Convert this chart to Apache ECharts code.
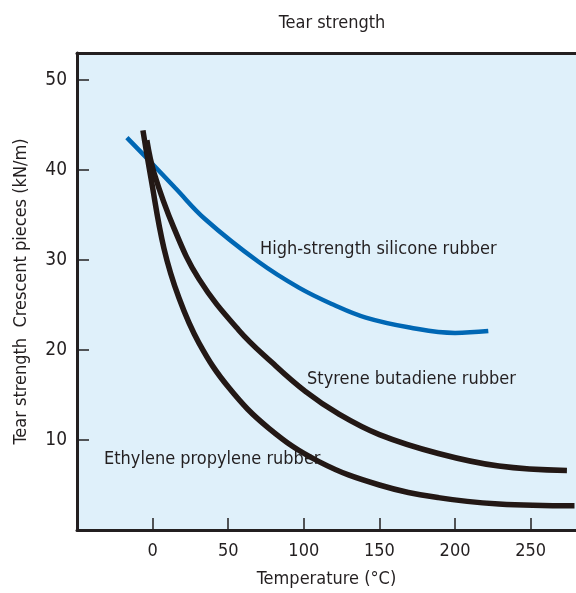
<!DOCTYPE html>
<html><head><meta charset="utf-8">
<script src="https://cdn.jsdelivr.net/npm/echarts@6/dist/echarts.min.js"></script>
<style>html,body{margin:0;padding:0;background:#fff}#c{width:576px;height:593px}</style>
</head><body><div id="c"></div>
<script>
const FONT = '"Liberation Sans Narrow","DejaVu Sans Condensed","Roboto Condensed",sans-serif';
const INK = '#231f20';
const title = 'Tear strength';
const xName = 'Temperature (°C)';
const yName = 'Tear strength  Crescent pieces (kN/m)';
const xTicks = [0, 50, 100, 150, 200, 250];
const yTicks = [10, 20, 30, 40, 50];

const siliconeName = 'High-strength silicone rubber';
const siliconeTemp = [-17, -2, 15, 35, 70, 97, 120, 141, 170, 200, 222];
const siliconeVal  = [43.6, 41, 38.0, 34.5, 29.8, 26.9, 25.0, 23.6, 22.5, 21.9, 22.1];

const sbrName = 'Styrene butadiene rubber';
const sbrTemp = [-3.8, 0.9, 14, 30.6, 57, 79, 101, 123, 150, 189, 229, 274];
const sbrVal  = [43.3, 39.7, 33.6, 27.9, 22.2, 18.6, 15.4, 12.9, 10.6, 8.5, 7.1, 6.6];

const eprName = 'Ethylene propylene rubber';
const eprTemp = [-6.4, -1.1, 7.5, 17.4, 30.6, 50.5, 76.9, 110, 150, 189, 229, 279];
const eprVal  = [44.4, 39.1, 31.3, 25.8, 20.8, 15.8, 11.3, 7.6, 5.0, 3.6, 2.9, 2.7];

const zip = (a, b) => a.map((v, i) => [v, b[i]]);
const chart = echarts.init(document.getElementById('c'), null, {renderer: 'canvas'});
const txt = {fontFamily: FONT, fontSize: 18, color: INK};
chart.setOption({
  animation: false,
  title: {text: title, left: 327, textAlign: 'center', top: 9, textStyle: {fontFamily: FONT, fontSize: 18, fontWeight: 'normal', color: INK}},
  grid: {left: 77, right: 0, top: 53, bottom: 61, show: true, backgroundColor: '#dff0fa', borderWidth: 0},
  xAxis: [{
    type: 'value', min: -50, max: 280, interval: 50,
    name: xName, nameLocation: 'middle', nameGap: 40, nameTextStyle: txt,
    axisLine: {onZero: false, lineStyle: {color: INK, width: 3}},
    axisTick: {inside: true, length: 12, lineStyle: {color: INK, width: 1.5}, customValues: xTicks},
    axisLabel: {customValues: xTicks, margin: 12, ...txt},
    splitLine: {show: false}
  }, {
    type: 'value', position: 'top', min: -50, max: 280,
    axisLine: {show: true, onZero: false, lineStyle: {color: INK, width: 3}},
    axisTick: {show: false}, axisLabel: {show: false}, splitLine: {show: false}
  }],
  yAxis: {
    type: 'value', min: 0, max: 53, interval: 10,
    name: yName, nameLocation: 'middle', nameGap: 47, nameTextStyle: txt,
    axisLine: {show: true, onZero: false, lineStyle: {color: INK, width: 3}},
    axisTick: {show: true, inside: true, length: 12, lineStyle: {color: INK, width: 1.5}, customValues: yTicks},
    axisLabel: {customValues: yTicks, margin: 10, ...txt, fontSize: 19},
    splitLine: {show: false}
  },
  series: [
    {name: siliconeName, type: 'line', smooth: 0.4, showSymbol: false, data: zip(siliconeTemp, siliconeVal),
     lineStyle: {color: '#0067b4', width: 4.5}},
    {name: sbrName, type: 'line', smooth: 0.4, showSymbol: false, data: zip(sbrTemp, sbrVal),
     lineStyle: {color: '#231815', width: 5.5}},
    {name: eprName, type: 'line', smooth: 0.4, showSymbol: false, data: zip(eprTemp, eprVal),
     lineStyle: {color: '#231815', width: 5.5}}
  ],
  graphic: [
    {type: 'text', left: 260, top: 240, style: {text: siliconeName, font: '18px ' + FONT, fill: INK}},
    {type: 'text', left: 307, top: 370, style: {text: sbrName, font: '18px ' + FONT, fill: INK}},
    {type: 'text', left: 104, top: 450, style: {text: eprName, font: '18px ' + FONT, fill: INK}}
  ]
});
</script></body></html>
